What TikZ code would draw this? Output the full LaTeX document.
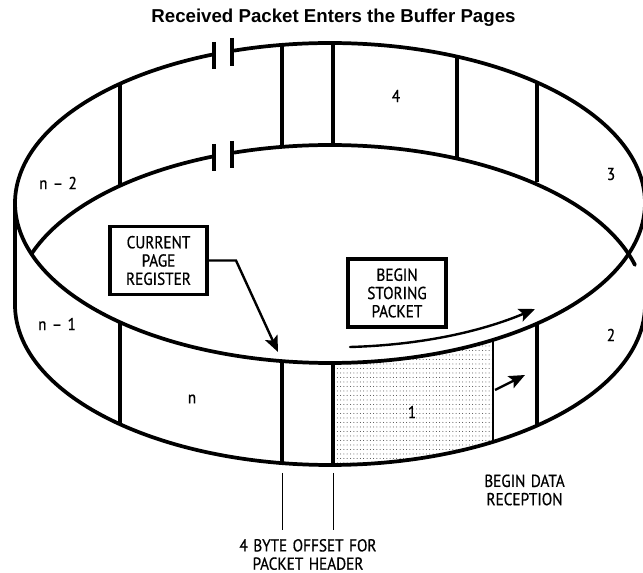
\documentclass[tikz,border=0pt]{standalone}
\usepackage{fontspec}
\setmainfont{PT Sans}[FakeStretch=0.88,FakeBold=0.6,WordSpace=1.35]
\newfontfamily\titlefont{Liberation Sans}
\usetikzlibrary{arrows.meta,calc}
\tikzset{
  wall/.style={line width=2.8pt,line cap=round,line join=round},
  divider/.style={line width=3pt},
  thindiv/.style={line width=2pt},
  leader/.style={line width=0.65pt},
  labelbox/.style={draw,line width=2.8pt,align=center,minimum width=73pt,inner sep=0pt,font=\fontsize{13}{13.7}\selectfont},
  txt/.style={align=center,inner sep=0pt,font=\fontsize{13}{13.7}\selectfont},
  ptr/.style={line width=1.8pt,-{Stealth[length=12pt,width=10pt,inset=2.5pt]}},
}
\begin{document}
\begin{tikzpicture}[x=0.75pt,y=-0.75pt]
\useasboundingbox (0,0) rectangle (643,573);
\clip (0,0) rectangle (643,573);
% stipple of page 1
\begin{scope}
\clip plot[domain=-89.5:-58.8,samples=30,smooth] ({330+315*cos(\x)},{203-160*sin(\x)})
  -- plot[domain=-58.8:-89.5,samples=30,smooth] ({330+315*cos(\x)},{305-160*sin(\x)}) -- cycle;
\foreach \r in {0,...,26}{
  \foreach \c in {0,...,50}{
    \fill[black!75] ({334+\c*3.3},{346+\r*4.5}) circle[radius=0.5];
  }
}
\end{scope}
% rims
\draw[wall] plot[domain=107.7:-248.4,samples=240,smooth] ({330+315*cos(\x)},{203-160*sin(\x)});
\draw[wall] plot[domain=161:111.6,samples=40,smooth] ({330+315*cos(\x)},{305-160*sin(\x)});
\draw[wall] plot[domain=107.7:14.5,samples=60,smooth] ({330+315*cos(\x)},{305-160*sin(\x)});
\draw[wall] (15,203) -- (15,305) plot[domain=180:360,samples=120,smooth] ({330+315*cos(\x)},{305+160*sin(-\x)});
\draw[wall] (645,203) -- (645,305);
% break marks
\draw[divider] (214,42) -- (214,69) (232,38) -- (232,66) (214,144) -- (214,171) (232,141) -- (232,168);
% dividers
\draw[divider] (120,85) -- (120,186) (282,46) -- (282,147) (333,43) -- (333,145) (457,58) -- (457,159) (537,81) -- (537,182);
\draw[divider] (120,322) -- (120,424) (282,361) -- (282,463) (333,363) -- (333,465) (537,324) -- (537,426);
\draw[thindiv] (493,340) -- (493,443);
% page labels
\node[txt] (pnm2) at (58,183) {n – 2};
\node[txt] (p4) at (396,96) {4};
\node[txt] (p3) at (611,174) {3};
\node[txt] (pnm1) at (57,324) {n – 1};
\node[txt] (pn) at (192,399) {n};
\node[txt] (p1) at (412,412) {1};
\node[txt] (p2) at (611,335) {2};
% title
\node[font=\titlefont\bfseries\fontsize{14}{16}\selectfont] (title) at (333.5,18) {Received Packet Enters the Buffer Pages};
% boxes
\node[labelbox,minimum height=51pt] (cpr) at (158.5,260.5) {CURRENT\\PAGE\\REGISTER};
\node[labelbox,minimum height=51pt] (bsp) at (397,293) {BEGIN\\STORING\\PACKET};
\coordinate (cprtip) at (278,352);
\coordinate (cprbend) at (236,260.5);
\draw[ptr,line join=miter] (cpr.east) -- (cprbend) -- (cprtip);
\coordinate (stA) at (350,347);
\coordinate (stB) at (535,309);
\draw[ptr,line cap=round] (stA) .. controls (420,345) and (480,332) .. (stB);
\coordinate (rxA) at (495,390);
\coordinate (rxB) at (525,375);
\draw[ptr] (rxA) -- (rxB);
% leaders
\coordinate (lA1) at (282,473); \coordinate (lA2) at (282,530);
\coordinate (lB1) at (333,473); \coordinate (lB2) at (333,530);
\draw[leader] (lA1) -- (lA2) (lB1) -- (lB2);
\node[txt] (offs) at (308,554.5) {4 BYTE OFFSET FOR\\PACKET HEADER};
\node[txt] (drx) at (524.5,490) {BEGIN DATA\\RECEPTION};
\end{tikzpicture}
\end{document}
